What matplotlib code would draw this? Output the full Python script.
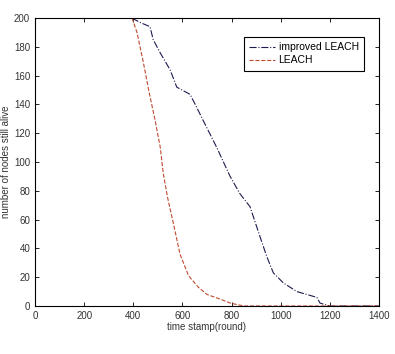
import matplotlib
matplotlib.use("Agg")
import matplotlib.pyplot as plt

# improved LEACH (dash-dot)
imp_x = [395, 427, 468, 481, 509, 550, 577, 631, 658, 684, 740, 794, 834, 875,
         916, 944, 970, 1011, 1066, 1147, 1160, 1200, 1400]
imp_y = [200, 197, 194, 185, 176, 164, 152, 147, 138, 129, 110, 90, 78, 69,
         48, 34, 23, 16, 10, 6, 2, 0, 0]

# LEACH (dashed)
leach_x = [395, 415, 440, 465, 490, 510, 522, 540, 565, 590, 625, 665, 700,
           750, 795, 850, 1400]
leach_y = [200, 190, 170, 148, 128, 110, 92, 75, 56, 36, 21, 13, 8,
           5, 2, 0, 0]

plt.rcParams['font.family'] = ['Liberation Sans', 'DejaVu Sans']

fig = plt.figure(figsize=(3.95, 3.54), dpi=100)
ax = fig.add_axes([0.0886, 0.1356, 0.8709, 0.8134])

ax.plot(imp_x, imp_y, linestyle='-.', color='#1c1c50', linewidth=0.8,
        label='improved LEACH')
ax.plot(leach_x, leach_y, linestyle='--', color='#c04a30', linewidth=0.8,
        label='LEACH')

ax.set_xlim(0, 1400)
ax.set_ylim(0, 200)
ax.set_xticks(range(0, 1401, 200))
ax.set_yticks(range(0, 201, 20))
ax.tick_params(direction='in', top=True, right=True, labelsize=7,
               labelcolor='#333333', length=3, width=0.6)
for s in ax.spines.values():
    s.set_linewidth(0.8)

ax.set_xlabel('time stamp(round)', fontsize=7, color='#333333', labelpad=1)
ax.set_ylabel('number of nodes still alive', fontsize=7, color='#333333',
              labelpad=2)

leg = ax.legend(loc='upper right', bbox_to_anchor=(0.956, 0.934), fontsize=7.5,
                fancybox=False, edgecolor='black', framealpha=1,
                handlelength=2.5, borderpad=0.5, labelspacing=0.3,
                handletextpad=0.3, borderaxespad=0)
leg.get_frame().set_linewidth(0.8)

fig.savefig('out.png', dpi=100)
